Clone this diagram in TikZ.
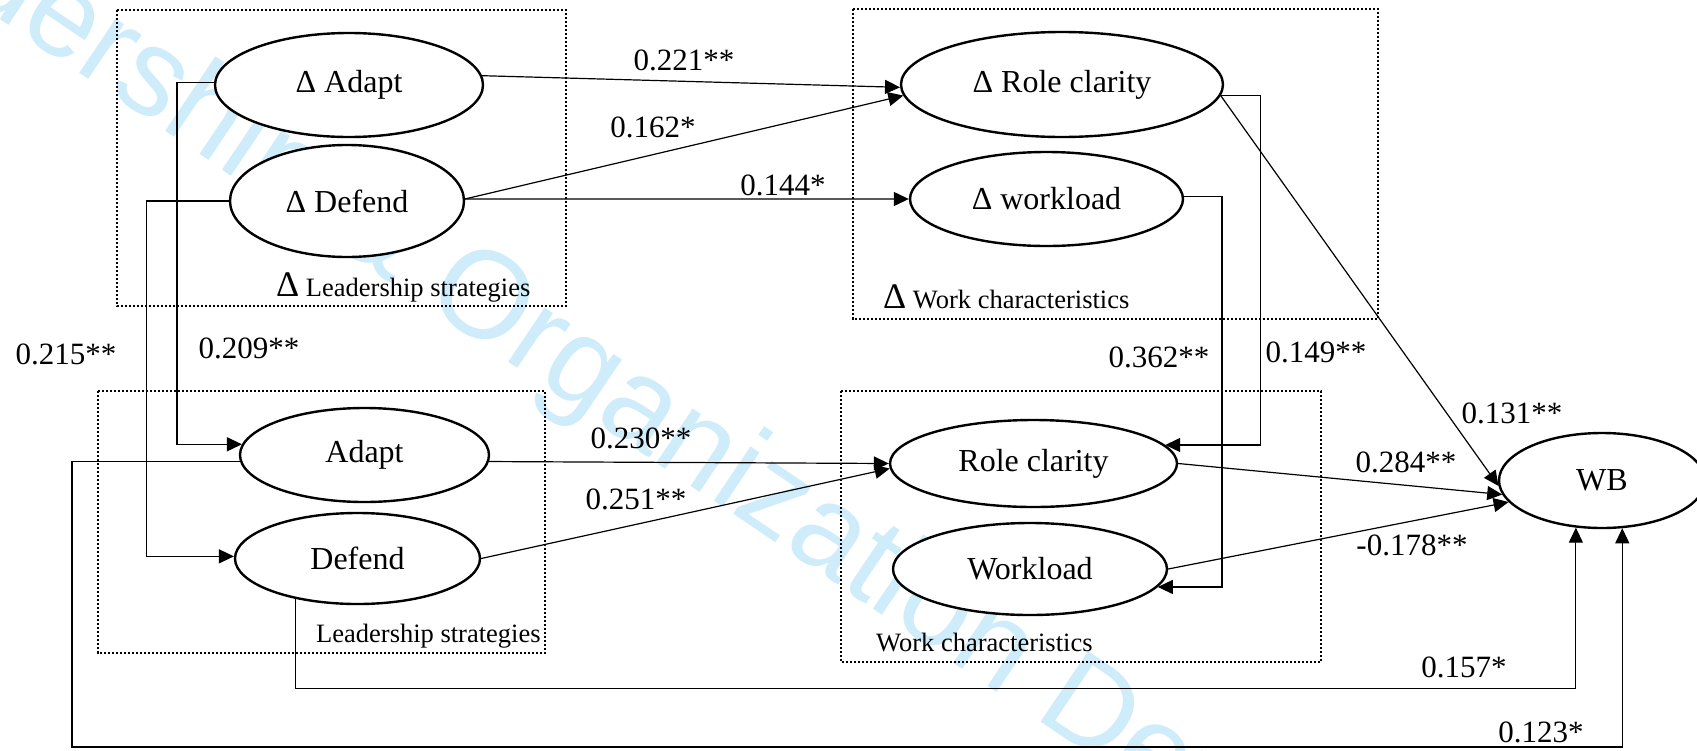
\documentclass[tikz,border=0pt]{standalone}
\usepackage{fontspec}
\setmainfont{Liberation Serif}
\newfontfamily\wmfont{Liberation Sans}
\usetikzlibrary{shapes.geometric,arrows.meta}
\definecolor{wmblue}{RGB}{206,236,250}

\begin{document}
\begin{tikzpicture}[x=1pt,y=-1pt]

      \useasboundingbox (0,0) rectangle (1697,750);

      % watermark behind everything
      \node[anchor=base west,inner sep=0pt,rotate=-34,text=wmblue,
            font=\wmfont\fontsize{124}{124}\selectfont] (wm) at (-213,-124)
            {Leadership \& Organization Development Journal};

      % dotted group frames
      \begin{scope}[line width=2.6pt,dash pattern=on 2.2pt off 1.8pt]
        \draw (117,10)  rectangle (566,306);
        \draw (853,9)   rectangle (1378,319);
        \draw (98,391)  rectangle (545,653);
        \draw (841,391) rectangle (1321,662);
      \end{scope}

      \begin{scope}[every node/.style={anchor=base west,inner sep=0pt,
                                       font=\fontsize{26.5}{30}\selectfont}]
        \node (tDL) at (276,296) {{\fontsize{36}{36}\selectfont Δ} Leadership strategies};
        \node (tDW) at (883,308) {{\fontsize{36}{36}\selectfont Δ} Work characteristics};
        \node (tL)  at (316,642) {Leadership strategies};
        \node (tW)  at (876,651) {Work characteristics};
      \end{scope}

      \begin{scope}[every node/.style={ellipse,draw,line width=2.4pt,inner sep=0pt,
                                       fill=white,font=\fontsize{32}{36}\selectfont}]
        \node[minimum width=268pt,minimum height=104pt] (dA) at (349,85)      {Δ Adapt};
        \node[minimum width=234pt,minimum height=112pt] (dD) at (347,201)     {Δ Defend};
        \node[minimum width=322pt,minimum height=105pt] (dR) at (1062,84.5)   {Δ Role clarity};
        \node[minimum width=273pt,minimum height=94pt]  (dW) at (1046.5,199)  {Δ workload};
        \node[minimum width=249pt,minimum height=94pt]  (A)  at (364.5,455)   {Adapt};
        \node[minimum width=245pt,minimum height=91pt]  (D)  at (357.5,558.5) {Defend};
        \node[minimum width=287pt,minimum height=87pt]  (R)  at (1033.5,463.5){Role clarity};
        \node[minimum width=274pt,minimum height=92pt]  (W)  at (1030,569)    {Workload};
        \node[minimum width=206pt,minimum height=95pt]  (WB) at (1602,480.5)  {WB};
      \end{scope}

      \coordinate (turnA) at (72,747);

      \begin{scope}[every edge/.style={draw,line width=1.2pt,-{Triangle[length=15pt,width=14pt]}}]
        \path (dA.4)   edge (dR.181);
        \path (dD.1)   edge (dR.184);
        \path (dD.1)   edge (dW.west);
        \path (A.357)  edge (R.west);
        \path (D.east) edge (R.182);
        \path (dR.356) edge (WB.183);
        \path (R.east) edge (WB.188);
        \path (W.east) edge (WB.193);
      \end{scope}

      \begin{scope}[line width=1.2pt,-{Triangle[length=15pt,width=14pt]}]
        \draw (dA.179)  -- ++(-37,0) |- (A.175);
        \draw (dD.west) -- ++(-82,0) |- (D.179);
        \draw (dR.356)  -- ++(40,0)  |- (R.8);
        \draw (dW.1)    -- ++(38,0)  |- (W.352);
        \draw (D.213)   -- ++(0,90)  -| (WB.241);
        \draw (A.183)   -| (turnA)   -| (WB.293);
      \end{scope}

      \begin{scope}[every node/.style={inner sep=0pt,font=\fontsize{31}{34}\selectfont}]
        \node (c1)  at (684,60)   {0.221**};
        \node (c2)  at (653,127)  {0.162*};
        \node (c3)  at (783,185)  {0.144*};
        \node (c4)  at (66,354)   {0.215**};
        \node (c5)  at (249,348)  {0.209**};
        \node (c6)  at (641,438)  {0.230**};
        \node (c7)  at (636,499)  {0.251**};
        \node (c8)  at (1159,357) {0.362**};
        \node (c9)  at (1316,352) {0.149**};
        \node (c10) at (1512,413) {0.131**};
        \node (c11) at (1406,462) {0.284**};
        \node (c12) at (1412,545) {-0.178**};
        \node (c13) at (1464,667) {0.157*};
        \node (c14) at (1541,732) {0.123*};
      \end{scope}

    \end{tikzpicture}
\end{document}
